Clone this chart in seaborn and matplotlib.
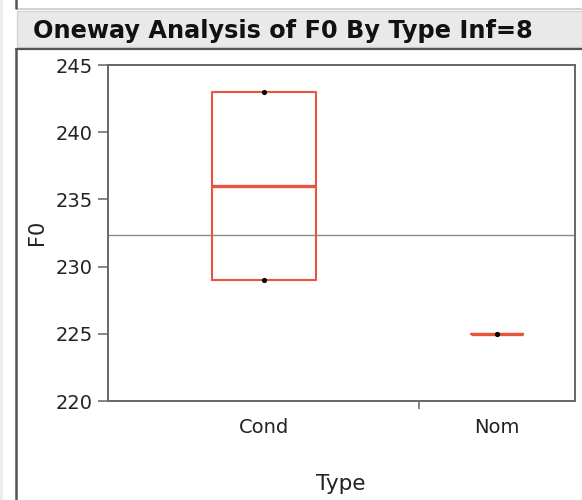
import matplotlib

matplotlib.use("Agg")
import matplotlib.pyplot as plt
import numpy as np
import pandas as pd
import seaborn as sns
from matplotlib.lines import Line2D
from matplotlib.patches import Rectangle

TYPES = ["Cond", "Cond", "Nom"]
F0 = [243, 229, 225]
GROUP_ORDER = ["Cond", "Nom"]
Y_TICKS = [220, 225, 230, 235, 240, 245]
TITLE = "Oneway Analysis of F0 By Type Inf=8"

BOX_COLOR = "#E8553E"
SPINE_COLOR = "#666666"


def group_layout(df: pd.DataFrame) -> pd.DataFrame:
    # JMP gives each level a slot proportional to its count
    counts = df["Type"].value_counts().reindex(GROUP_ORDER)
    edges = np.concatenate([[0], np.cumsum(counts.values)])
    return pd.DataFrame(
        {
            "Type": GROUP_ORDER,
            "n": counts.values,
            "left": edges[:-1],
            "right": edges[1:],
            "center": (edges[:-1] + edges[1:]) / 2,
        }
    )


def box_stats(df: pd.DataFrame, layout: pd.DataFrame) -> list[dict]:
    stats = []
    for _, row in layout.iterrows():
        vals = df.loc[df["Type"] == row["Type"], "F0"].to_numpy()
        q1, med, q3 = np.percentile(vals, [25, 50, 75], method="weibull")
        stats.append(
            {
                "med": med,
                "q1": q1,
                "q3": q3,
                "whislo": vals.min(),
                "whishi": vals.max(),
                "fliers": [],
            }
        )
    return stats


def main() -> None:
    sns.set_style("white")
    plt.rcParams["font.family"] = ["DejaVu Sans"]

    df = pd.DataFrame({"Type": TYPES, "F0": F0})
    layout = group_layout(df)
    df["pos"] = df["Type"].map(dict(zip(layout["Type"], layout["center"])))

    fig = plt.figure(figsize=(5.82, 5.0), dpi=100)
    ax = fig.add_axes([108 / 582, 1 - 401 / 500, 467 / 582, 336 / 500])

    ax.axhline(df["F0"].mean(), color="#8a8a8a", lw=1.0, zorder=1)

    props = dict(color=BOX_COLOR, linewidth=1.5)
    widths = (layout["n"] / 3.0).tolist()
    ax.bxp(
        box_stats(df, layout),
        positions=layout["center"].tolist(),
        widths=widths,
        showcaps=False,
        showfliers=False,
        boxprops=props,
        whiskerprops=props,
        medianprops=dict(color=BOX_COLOR, linewidth=2.4),
        manage_ticks=False,
        zorder=2,
    )

    sns.scatterplot(
        data=df, x="pos", y="F0", color="black", s=14, linewidth=0,
        ax=ax, zorder=4, legend=False,
    )

    ax.set_xlim(0, layout["right"].max())
    ax.set_ylim(Y_TICKS[0], Y_TICKS[-1])
    ax.set_yticks(Y_TICKS)
    ax.set_xticks(layout["right"].iloc[:-1].tolist())
    ax.set_xticklabels([])
    ax.set_xticks(layout["center"].tolist(), minor=True)
    ax.set_xticklabels(GROUP_ORDER, minor=True)

    ax.tick_params(axis="y", which="major", direction="out", length=7, width=1.1,
                   color=SPINE_COLOR, pad=4, labelsize=14, labelcolor="#222222", left=True)
    ax.tick_params(axis="x", which="major", direction="out", length=6, width=1.1,
                   color=SPINE_COLOR, bottom=True)
    ax.tick_params(axis="x", which="minor", length=0, pad=12, labelsize=14,
                   labelcolor="#222222")

    for side in ["left", "right", "top", "bottom"]:
        ax.spines[side].set_visible(True)
        ax.spines[side].set_color(SPINE_COLOR)
        ax.spines[side].set_linewidth(1.4)

    ax.set_xlabel("Type", fontsize=15.5, color="#222222")
    ax.set_ylabel("F0", fontsize=15, color="#222222")
    ax.xaxis.label.set_verticalalignment("center")
    ax.yaxis.label.set_verticalalignment("center")
    ax.xaxis.set_label_coords(0.499, -0.247)
    ax.yaxis.set_label_coords(-0.152, 0.503)

    # JMP report frame and title bar
    fig.add_artist(Rectangle((17 / 582, 1 - 47 / 500), 1, 36 / 500,
                             transform=fig.transFigure, facecolor="#e9e9e9",
                             edgecolor="#d4d4d4", lw=1.0, zorder=0))
    fig.add_artist(Rectangle((0, 0), 3 / 582, 1, transform=fig.transFigure,
                             facecolor="#ececec", edgecolor="none", zorder=0))
    fig.add_artist(Line2D([16 / 582, 1], [1 - 9 / 500, 1 - 9 / 500],
                          transform=fig.transFigure, color="#c8c8c8", lw=1.2))
    fig.add_artist(Line2D([16 / 582, 1], [1 - 49 / 500, 1 - 49 / 500],
                          transform=fig.transFigure, color="#555555", lw=1.6))
    fig.add_artist(Line2D([16 / 582, 16 / 582], [0, 1 - 49 / 500],
                          transform=fig.transFigure, color="#555555", lw=1.8))
    fig.add_artist(Line2D([16 / 582, 16 / 582], [1 - 8 / 500, 1],
                          transform=fig.transFigure, color="#555555", lw=1.8))
    fig.text(33 / 582, 1 - 38 / 500, TITLE, fontsize=17.3, fontweight="bold",
             color="#111111", ha="left", va="baseline")

    fig.savefig("out.png", dpi=100)
    plt.close(fig)


if __name__ == "__main__":
    main()
